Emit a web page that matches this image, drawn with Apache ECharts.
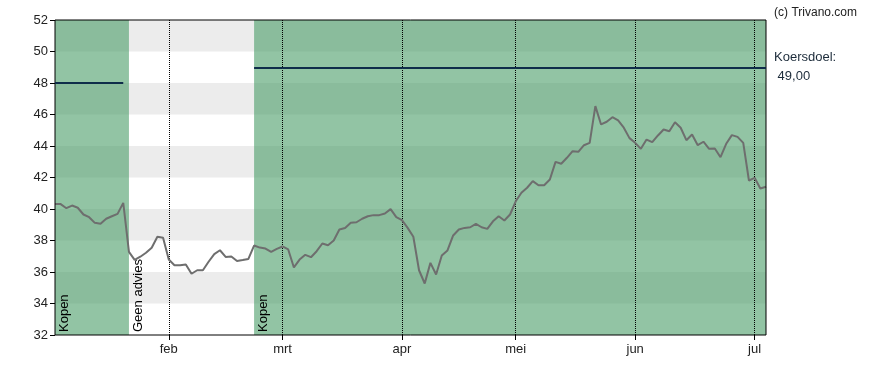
<!DOCTYPE html>
<html>
<head>
<meta charset="utf-8">
<script src="https://cdn.jsdelivr.net/npm/echarts@6/dist/echarts.min.js"></script>
<style>
html,body{margin:0;padding:0;background:#fff;}
#chart{width:888px;height:370px;}
</style>
</head>
<body>
<div id="chart"></div>
<script>
// Trading days (x categories)
const dates = [
'2025-01-06','2025-01-07','2025-01-08','2025-01-09','2025-01-10','2025-01-13','2025-01-14','2025-01-15','2025-01-16','2025-01-17',
'2025-01-20','2025-01-21','2025-01-22','2025-01-23','2025-01-24','2025-01-27','2025-01-28','2025-01-29','2025-01-30','2025-01-31',
'2025-02-03','2025-02-04','2025-02-05','2025-02-06','2025-02-07','2025-02-10','2025-02-11','2025-02-12','2025-02-13','2025-02-14',
'2025-02-17','2025-02-18','2025-02-19','2025-02-20','2025-02-21','2025-02-24','2025-02-25','2025-02-26','2025-02-27','2025-02-28',
'2025-03-03','2025-03-04','2025-03-05','2025-03-06','2025-03-07','2025-03-10','2025-03-11','2025-03-12','2025-03-13','2025-03-14',
'2025-03-17','2025-03-18','2025-03-19','2025-03-20','2025-03-21','2025-03-24','2025-03-25','2025-03-26','2025-03-27','2025-03-28',
'2025-03-31','2025-04-01','2025-04-02','2025-04-03','2025-04-04','2025-04-07','2025-04-08','2025-04-09','2025-04-10','2025-04-11',
'2025-04-14','2025-04-15','2025-04-16','2025-04-17','2025-04-22','2025-04-23','2025-04-24','2025-04-25','2025-04-28','2025-04-29',
'2025-04-30','2025-05-02','2025-05-05','2025-05-06','2025-05-07','2025-05-08','2025-05-09','2025-05-12','2025-05-13','2025-05-14',
'2025-05-15','2025-05-16','2025-05-19','2025-05-20','2025-05-21','2025-05-22','2025-05-23','2025-05-26','2025-05-27','2025-05-28',
'2025-05-29','2025-05-30','2025-06-02','2025-06-03','2025-06-04','2025-06-05','2025-06-06','2025-06-09','2025-06-10','2025-06-11',
'2025-06-12','2025-06-13','2025-06-16','2025-06-17','2025-06-18','2025-06-19','2025-06-20','2025-06-23','2025-06-24','2025-06-25',
'2025-06-26','2025-06-27','2025-06-30','2025-07-01','2025-07-02','2025-07-03'
];

// Closing prices
const prices = [
40.31,40.31,40.05,40.22,40.08,39.65,39.48,39.12,39.06,39.38,
39.54,39.69,40.39,37.28,36.77,36.97,37.22,37.54,38.24,38.17,
36.79,36.43,36.43,36.48,35.89,36.11,36.11,36.65,37.14,37.38,
36.96,36.99,36.70,36.76,36.83,37.68,37.55,37.49,37.28,37.47,
37.62,37.43,36.29,36.79,37.09,36.94,37.32,37.81,37.70,38.00,
38.70,38.79,39.12,39.16,39.38,39.54,39.61,39.61,39.71,39.99,
39.48,39.29,38.80,38.24,36.11,35.27,36.58,35.84,37.05,37.37,
38.32,38.70,38.80,38.84,39.06,38.84,38.74,39.22,39.54,39.27,
39.65,40.49,41.03,41.35,41.77,41.51,41.51,41.87,42.99,42.87,
43.25,43.67,43.63,44.05,44.20,46.53,45.37,45.54,45.83,45.62,
45.16,44.50,44.20,43.82,44.41,44.24,44.67,45.05,44.94,45.51,
45.16,44.37,44.73,44.05,44.27,43.82,43.84,43.29,44.14,44.69,
44.58,44.20,41.81,41.98,41.30,41.41
];

// Advice periods
const ratingLabels = ['Kopen', 'Geen advies', 'Kopen'];
const ratingStarts = ['2025-01-06', '2025-01-23', '2025-02-24'];
const ratingEnds   = ['2025-01-23', '2025-02-24', '2025-07-03'];

// Target prices (koersdoel)
const targetValues = [48, 49];
const targetStarts = ['2025-01-06', '2025-02-24'];
const targetEnds   = ['2025-01-22', '2025-07-03'];
const targetLabel = 'Koersdoel:\n 49,00';

// Y-axis
const yMin = 32, yMax = 52, yStep = 2;
const monthNames = ['jan','feb','mrt','apr','mei','jun','jul','aug','sep','okt','nov','dec'];

const FONT = "'Liberation Sans', Arial, sans-serif";
const monthStartIdx = new Set();
for (let i = 1; i < dates.length; i++) {
  if (dates[i].slice(5,7) !== dates[i-1].slice(5,7)) monthStartIdx.add(i);
}
const isMonthStart = (idx) => monthStartIdx.has(idx);

const chart = echarts.init(document.getElementById('chart'), null, {renderer: 'canvas'});

const markAreaData = ratingLabels.map((lab, i) => [
  {
    name: lab,
    xAxis: ratingStarts[i],
    itemStyle: {color: lab === 'Kopen' ? 'rgba(73,157,103,0.6)' : 'rgba(0,0,0,0)'},
    label: {
      show: true, position: 'insideBottomLeft', rotate: 90, distance: 3,
      align: 'left', verticalAlign: 'top',
      formatter: lab, fontSize: 13, color: '#000', fontFamily: FONT
    }
  },
  {xAxis: ratingEnds[i]}
]);

const markLineData = targetValues.map((v, i) => {
  const isLast = i === targetValues.length - 1;
  const lbl = isLast ? {
    show: true, position: 'end', distance: 8, formatter: targetLabel,
    fontSize: 13, color: '#1c2b3a', lineHeight: 19, fontFamily: FONT, align: 'left'
  } : {show: false};
  return [
    {coord: [targetStarts[i], v], label: lbl},
    {coord: [targetEnds[i], v], label: lbl}
  ];
});

chart.setOption({
  animation: false,
  textStyle: {fontFamily: FONT},
  title: {
    text: '(c) Trivano.com', right: 26, top: 2,
    textStyle: {fontSize: 12, fontWeight: 'normal', color: '#222', fontFamily: FONT}
  },
  grid: {
    left: 55, right: 122, top: 20, bottom: 35,
    show: true, borderColor: '#000', borderWidth: 1,
    backgroundColor: 'transparent', z: 5
  },
  xAxis: {
    type: 'category', data: dates, boundaryGap: false, z: 3,
    axisLine: {show: false},
    axisTick: {show: true, interval: isMonthStart, length: 5, lineStyle: {color: '#000'}},
    axisLabel: {
      interval: isMonthStart, fontSize: 13, color: '#222', margin: 8,
      formatter: (v) => monthNames[parseInt(v.slice(5,7), 10) - 1]
    },
    splitLine: {show: true, interval: isMonthStart, lineStyle: {type: 'dotted', color: '#000', width: 1}}
  },
  yAxis: {
    type: 'value', min: yMin, max: yMax, interval: yStep,
    axisLine: {show: false},
    axisTick: {show: true, length: 5, lineStyle: {color: '#000'}},
    axisLabel: {fontSize: 13, color: '#222', margin: 7},
    splitLine: {show: false},
    splitArea: {show: true, areaStyle: {color: ['#ffffff', '#ececec']}}
  },
  series: [
    {
      type: 'line', data: prices, symbol: 'none', silent: true, z: 1,
      lineStyle: {opacity: 0, width: 0},
      markArea: {silent: true, data: markAreaData}
    },
    {
      type: 'line', data: prices, symbol: 'none', z: 4,
      lineStyle: {color: '#6e6e6e', width: 2},
      markLine: {
        silent: true, symbol: ['none', 'none'],
        lineStyle: {color: '#0f2d4a', width: 2, type: 'solid'},
        data: markLineData
      }
    }
  ]
});
</script>
</body>
</html>
